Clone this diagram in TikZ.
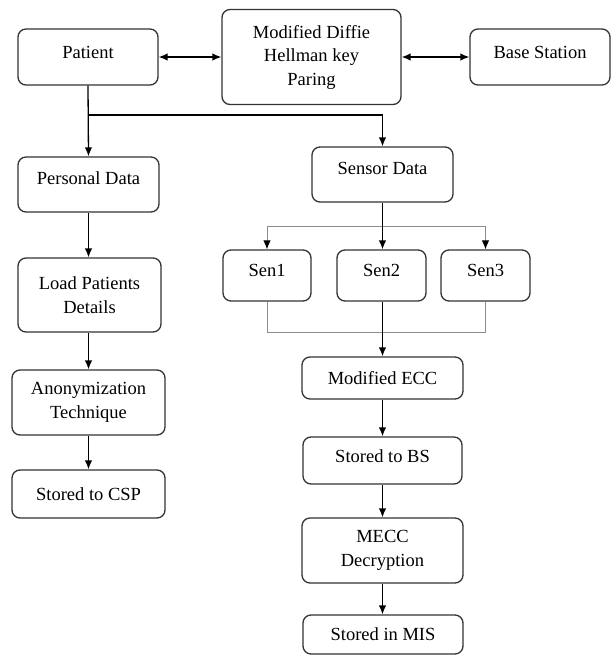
\documentclass[tikz,border=0pt]{standalone}
\usepackage{fontspec}
\newfontfamily\timesx{LiberationSerif}[Extension=.ttf, UprightFont=*-Regular]
\usetikzlibrary{arrows.meta}
\begin{document}
\begin{tikzpicture}[x=1pt,y=-1pt,
  box/.style={draw=black!80, line width=1.3pt, rounded corners=8pt, align=center,
    font=\timesx\fontsize{18.5}{23.5}\selectfont, inner sep=0pt},
  up/.style={text depth=10pt},
  arr/.style={line width=1.3pt, -{Latex[length=9pt,width=7.5pt]}},
  darr/.style={line width=1.3pt, {Latex[length=9pt,width=7.5pt]}-{Latex[length=9pt,width=7.5pt]}},
  thin/.style={draw=black!45, line width=0.9pt},
  garr/.style={draw=black!45, line width=0.9pt, -{Latex[length=9pt,width=7.5pt,color=black]}}]
\useasboundingbox (0,0) rectangle (611,656);
% top row
\node[box,up,minimum width=140pt,minimum height=56pt] (patient) at (88,57) {Patient};
\node[box,minimum width=179pt,minimum height=95pt] (diffie) at (311.5,57) {Modified Diffie\\Hellman key\\Paring};
\node[box,up,minimum width=140pt,minimum height=56pt] (bs) at (540,57) {Base Station};
% left column
\node[box,up,text depth=12pt,minimum width=141pt,minimum height=55pt] (personal) at (88.5,184.5) {Personal Data};
\node[box,minimum width=143pt,minimum height=74pt] (load) at (89.5,295) {Load Patients\\Details};
\node[box,minimum width=153pt,minimum height=65pt] (anon) at (88.5,402.5) {Anonymization\\Technique};
\node[box,minimum width=153pt,minimum height=48pt] (csp) at (88.5,494) {Stored to CSP};
% right column
\node[box,up,text depth=12pt,minimum width=141pt,minimum height=55pt] (sensor) at (382.5,174.5) {Sensor Data};
\node[box,up,minimum width=88pt,minimum height=51pt] (sen1) at (267,275.5) {Sen1};
\node[box,up,minimum width=89pt,minimum height=51pt] (sen2) at (381.5,275.5) {Sen2};
\node[box,up,minimum width=89pt,minimum height=51pt] (sen3) at (485.5,275.5) {Sen3};
\node[box,minimum width=161pt,minimum height=42pt] (ecc) at (382.5,378) {Modified ECC};
\node[box,text depth=8pt,minimum width=159pt,minimum height=47pt] (sbs) at (382.5,460.5) {Stored to BS};
\node[box,minimum width=161pt,minimum height=65pt] (mecc) at (382.5,550.5) {MECC\\Decryption};
\node[box,minimum width=160pt,minimum height=39pt] (mis) at (383,634.5) {Stored in MIS};
% connectors top
\draw[darr] (patient.east) -- (patient.east -| diffie.west);
\draw[darr] (bs.west -| diffie.east) -- (bs.west);
\coordinate (br) at (patient.south |- 0,115);
\draw[arr] (patient.south) -- (personal.north);
\draw[arr] (br) -| (sensor.north);
% left chain
\draw[arr] (personal.south) -- (personal.south |- load.north);
\draw[arr] (load.south -| personal.south) -- (personal.south |- anon.north);
\draw[arr] (anon.south -| personal.south) -- (personal.south |- csp.north);
% sensors
\coordinate (t1) at (sen1.north |- 0,226);
\coordinate (t3) at (sen3.north |- 0,226);
\coordinate (b1) at (sen1.south |- 0,332);
\coordinate (b3) at (sen3.south |- 0,332);
\draw[thin] (t1) -- (t3);
\draw[garr] (t1) -- (sen1.north);
\draw[garr] (t3) -- (sen3.north);
\draw[arr] (sensor.south) -- (sensor.south |- sen2.north);
\draw[thin] (sen1.south) -- (b1) -- (b3) -- (sen3.south);
\draw[arr] (sen2.south -| sensor.south) -- (sensor.south |- ecc.north);
\draw[arr] (ecc.south) -- (sbs.north);
\draw[arr] (sbs.south) -- (mecc.north);
\draw[arr] (mecc.south) -- (mecc.south |- mis.north);
\end{tikzpicture}
\end{document}
